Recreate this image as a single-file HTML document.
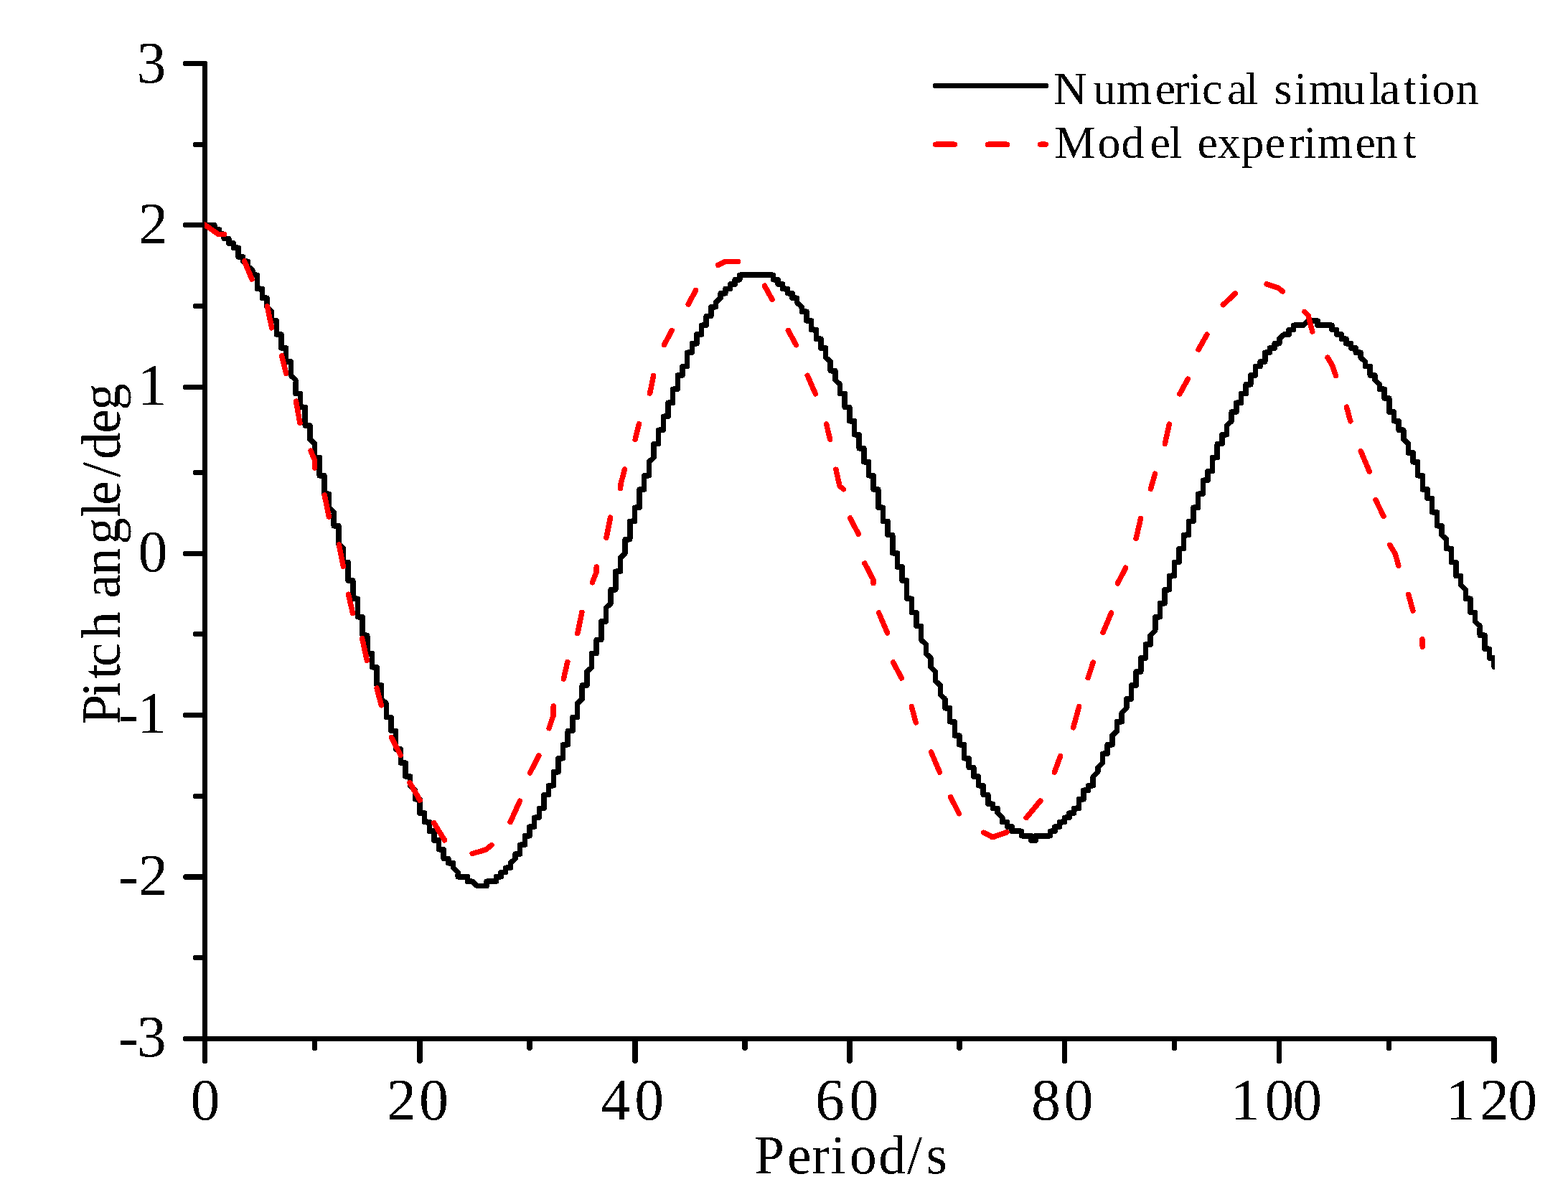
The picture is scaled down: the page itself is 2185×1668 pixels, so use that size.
<!DOCTYPE html>
<html lang="en"><head><meta charset="utf-8"><title>Pitch angle vs period</title>
<style>html,body{margin:0;padding:0;background:#fff;width:2185px;height:1668px;overflow:hidden}svg{display:block}text{font-family:'Liberation Serif', 'DejaVu Serif', serif;fill:#000;white-space:pre}</style></head><body>
<svg xmlns="http://www.w3.org/2000/svg" width="2185" height="1668" viewBox="0 0 2185 1668">
<rect width="2185" height="1668" fill="#fff"/>
<defs><clipPath id="plotclip"><rect x="285" y="0" width="1798" height="1668"/></clipPath><filter id="bin" x="0" y="0" width="2185" height="1668" filterUnits="userSpaceOnUse" color-interpolation-filters="sRGB"><feComponentTransfer><feFuncA type="discrete" tableValues="0 1"/></feComponentTransfer></filter></defs>
<g filter="url(#bin)">
<path d="M285.5,88.5 V1447.5 M285.5,1447.5 H2082.0 M285.5,88.5 H258.5 M285.5,313.5 H258.5 M285.5,539.5 H258.5 M285.5,771.5 H258.5 M285.5,996.5 H258.5 M285.5,1222.0 H258.5 M285.5,1447.5 H258.5 M285.5,201.5 H272.5 M285.5,426.5 H272.5 M285.5,658.5 H272.5 M285.5,883.5 H272.5 M285.5,1109.5 H272.5 M285.5,1334.5 H272.5 M285.5,1447.5 V1478.5 M585.0,1447.5 V1478.5 M885.0,1447.5 V1478.5 M1184.0,1447.5 V1478.5 M1483.5,1447.5 V1478.5 M1782.5,1447.5 V1478.5 M2082.0,1447.5 V1478.5 M438.5,1447.5 V1460.5 M738.0,1447.5 V1460.5 M1038.0,1447.5 V1460.5 M1337.0,1447.5 V1460.5 M1636.5,1447.5 V1460.5 M1935.5,1447.5 V1460.5" fill="none" stroke="#000" stroke-width="7.5" stroke-linecap="round" stroke-linejoin="round"/>
<g>
<text x="190.5" y="114.5" font-size="82.00">3</text>
<text x="193.1" y="338.8" font-size="82.00">2</text>
<text x="191.4" y="564.1" font-size="82.00">1</text>
<text x="192.4" y="796.2" font-size="82.00">0</text>
<text x="165.3 191.3" y="1021.0" font-size="82.00">-1</text>
<text x="165.3 193.1" y="1246.8" font-size="82.00">-2</text>
<text x="165.3 190.8" y="1472.0" font-size="82.00">-3</text>
<text x="265.4" y="1560.0" font-size="82.00">0</text>
<text x="539.1 584.1" y="1560.0" font-size="82.00">20</text>
<text x="837.3 884.3" y="1560.0" font-size="82.00">40</text>
<text x="1135.9 1183.4" y="1560.0" font-size="82.00">60</text>
<text x="1436.9 1482.5" y="1560.0" font-size="82.00">80</text>
<text x="1714.4 1762.5 1801.3" y="1560.0" font-size="82.00">100</text>
<text x="2014.4 2062.0 2101.3" y="1560.0" font-size="82.00">120</text>
</g>
<text x="1051.1 1097.1 1131.1 1157.5 1184.0 1224.2 1264.1 1290.6" y="1634.8" font-size="75.50">Period/s</text>
<text transform="translate(166.5,0) rotate(-90)" x="-1009.4 -970.9 -945.9 -928.9 -890.1 -852.3 -833.7 -801.5 -758.8 -720.8 -703.7 -664.9 -640.1 -603.8 -571.7" y="0" font-size="75.50">Pitch angle/deg</text>
<path d="M1303.6,119.5 H1457.3" fill="none" stroke="#000" stroke-width="7.5" stroke-linecap="round"/>
<text x="1468.3 1523.0 1555.5 1609.8 1635.9 1656.7 1675.1 1710.1 1735.6 1753.3 1775.6 1803.5 1823.4 1870.4 1908.1 1922.8 1956.0 1976.6 1995.5 2028.6" y="145.0" font-size="64.00">Numerical simulation</text>
<text x="1469.6 1529.4 1562.6 1602.6 1629.7 1647.5 1668.6 1696.4 1729.4 1762.7 1796.0 1816.7 1835.6 1888.5 1915.7 1955.8" y="220.0" font-size="64.00">Model experiment</text>
<path d="M285.5,313.5 298.81,313.5 298.81,319.85 305.46,319.85 305.46,326.2 312.12,326.2 312.12,332.56 318.77,332.56 318.77,338.91 325.43,338.91 325.43,345.26 332.08,345.26 332.08,357.96 338.74,357.96 338.74,364.32 345.39,364.32 345.39,370.67 352.05,377.02 352.05,383.37 358.7,383.37 358.7,402.43 365.35,402.43 365.35,415.13 372.01,415.13 372.01,427.84 378.66,434.19 378.66,446.89 385.32,446.89 385.32,465.95 391.97,465.95 391.97,485 398.63,485 398.63,504.06 405.28,504.06 405.28,523.12 411.94,529.47 411.94,548.52 418.59,548.52 418.59,567.58 425.24,567.58 425.24,592.99 431.9,592.99 431.9,612.04 438.55,618.4 438.55,637.45 445.21,637.45 445.21,662.86 451.86,662.86 451.86,688.27 458.52,688.27 458.52,707.32 465.17,713.68 465.17,732.73 471.83,732.73 471.83,758.14 478.48,764.49 478.48,783.55 485.13,783.55 485.13,808.96 491.79,808.96 491.79,834.36 498.44,834.36 498.44,859.77 505.1,859.77 505.1,885.18 511.75,885.18 511.75,910.59 518.41,910.59 518.41,929.64 525.06,929.64 525.06,955.05 531.72,955.05 531.72,974.11 538.37,980.46 538.37,999.52 545.03,999.52 545.03,1018.57 551.68,1018.57 551.68,1043.98 558.33,1043.98 558.33,1063.04 564.99,1063.04 564.99,1082.09 571.64,1082.09 571.64,1094.8 578.3,1101.15 578.3,1113.85 584.95,1113.85 584.95,1132.91 591.61,1132.91 591.61,1145.61 598.26,1145.61 598.26,1158.32 604.92,1158.32 604.92,1171.02 611.57,1171.02 611.57,1183.72 618.22,1183.72 618.22,1196.43 624.88,1196.43 624.88,1202.78 631.53,1202.78 631.53,1209.13 638.19,1215.48 638.19,1221.84 651.5,1221.84 651.5,1228.19 658.15,1228.19 664.81,1234.54 678.12,1234.54 678.12,1228.19 691.42,1228.19 691.42,1221.84 698.08,1221.84 698.08,1215.48 704.73,1215.48 704.73,1209.13 711.39,1209.13 711.39,1202.78 718.04,1196.43 718.04,1190.08 724.7,1190.08 724.7,1177.37 731.35,1177.37 731.35,1164.67 738.01,1164.67 738.01,1151.96 744.66,1151.96 744.66,1139.26 751.32,1139.26 751.32,1126.56 757.97,1126.56 757.97,1107.5 764.62,1107.5 764.62,1094.8 771.28,1094.8 771.28,1075.74 777.93,1075.74 777.93,1056.68 784.59,1056.68 784.59,1037.63 791.24,1037.63 791.24,1018.57 797.9,1018.57 797.9,999.52 804.55,999.52 804.55,980.46 811.21,974.11 811.21,955.05 817.86,955.05 817.86,936 824.51,929.64 824.51,910.59 831.17,910.59 831.17,891.53 837.82,891.53 837.82,866.12 844.48,866.12 844.48,847.07 851.13,840.72 851.13,821.66 857.79,821.66 857.79,796.25 864.44,796.25 864.44,777.2 871.1,770.84 871.1,751.79 877.75,751.79 877.75,726.38 884.4,726.38 884.4,707.32 891.06,707.32 891.06,681.92 897.71,681.92 897.71,662.86 904.37,662.86 904.37,643.8 911.02,637.45 911.02,618.4 917.68,618.4 917.68,599.34 924.33,599.34 924.33,580.28 930.99,580.28 930.99,561.23 937.64,561.23 937.64,542.17 944.3,542.17 944.3,523.12 950.95,523.12 950.95,510.41 957.6,510.41 957.6,491.36 964.26,491.36 964.26,478.65 970.91,478.65 970.91,465.95 977.57,465.95 977.57,453.24 984.22,453.24 984.22,440.54 990.88,440.54 990.88,427.84 997.53,427.84 997.53,421.48 1004.19,415.13 1004.19,408.78 1010.84,408.78 1010.84,402.43 1017.5,402.43 1017.5,396.08 1024.15,396.08 1024.15,389.72 1030.8,389.72 1030.8,383.37 1077.39,383.37 1077.39,389.72 1084.04,389.72 1084.04,396.08 1090.69,396.08 1090.69,402.43 1097.35,402.43 1097.35,408.78 1104,408.78 1104,415.13 1110.66,415.13 1110.66,421.48 1117.31,427.84 1117.31,434.19 1123.97,434.19 1123.97,446.89 1130.62,446.89 1130.62,459.6 1137.28,459.6 1137.28,472.3 1143.93,472.3 1143.93,485 1150.59,485 1150.59,497.71 1157.24,504.06 1157.24,516.76 1163.89,516.76 1163.89,529.47 1170.55,535.82 1170.55,548.52 1177.2,548.52 1177.2,567.58 1183.86,567.58 1183.86,586.64 1190.51,586.64 1190.51,605.69 1197.17,605.69 1197.17,624.75 1203.82,624.75 1203.82,643.8 1210.48,643.8 1210.48,662.86 1217.13,662.86 1217.13,681.92 1223.78,681.92 1223.78,707.32 1230.44,707.32 1230.44,726.38 1237.09,726.38 1237.09,745.44 1243.75,745.44 1243.75,770.84 1250.4,770.84 1250.4,789.9 1257.06,789.9 1257.06,808.96 1263.71,808.96 1263.71,834.36 1270.37,834.36 1270.37,853.42 1277.02,853.42 1277.02,872.48 1283.67,872.48 1283.67,891.53 1290.33,897.88 1290.33,910.59 1296.98,916.94 1296.98,929.64 1303.64,936 1303.64,948.7 1310.29,955.05 1310.29,967.76 1316.95,974.11 1316.95,986.81 1323.6,986.81 1323.6,1005.87 1330.26,1005.87 1330.26,1024.92 1336.91,1024.92 1336.91,1037.63 1343.57,1037.63 1343.57,1056.68 1350.22,1056.68 1350.22,1069.39 1356.87,1069.39 1356.87,1082.09 1363.53,1082.09 1363.53,1094.8 1370.18,1094.8 1370.18,1107.5 1376.84,1107.5 1376.84,1120.2 1383.49,1120.2 1383.49,1126.56 1390.15,1126.56 1390.15,1132.91 1396.8,1139.26 1396.8,1145.61 1403.46,1145.61 1403.46,1151.96 1410.11,1151.96 1410.11,1158.32 1423.42,1158.32 1423.42,1164.67 1436.73,1164.67 1436.73,1171.02 1443.38,1171.02 1443.38,1164.67 1463.35,1164.67 1463.35,1158.32 1470,1158.32 1470,1151.96 1476.66,1151.96 1476.66,1145.61 1483.31,1145.61 1483.31,1139.26 1489.96,1139.26 1489.96,1132.91 1496.62,1132.91 1496.62,1126.56 1503.27,1126.56 1503.27,1113.85 1509.93,1113.85 1509.93,1101.15 1516.58,1101.15 1516.58,1094.8 1523.24,1094.8 1523.24,1082.09 1529.89,1075.74 1529.89,1069.39 1536.55,1063.04 1536.55,1050.33 1543.2,1050.33 1543.2,1037.63 1549.86,1037.63 1549.86,1024.92 1556.51,1018.57 1556.51,1005.87 1563.16,1005.87 1563.16,993.16 1569.82,986.81 1569.82,974.11 1576.47,974.11 1576.47,955.05 1583.13,955.05 1583.13,936 1589.78,936 1589.78,916.94 1596.44,916.94 1596.44,897.88 1603.09,897.88 1603.09,885.18 1609.75,878.83 1609.75,859.77 1616.4,859.77 1616.4,840.72 1623.05,840.72 1623.05,821.66 1629.71,821.66 1629.71,802.6 1636.36,802.6 1636.36,783.55 1643.02,783.55 1643.02,764.49 1649.67,764.49 1649.67,745.44 1656.33,745.44 1656.33,726.38 1662.98,726.38 1662.98,707.32 1669.64,707.32 1669.64,688.27 1676.29,688.27 1676.29,669.21 1682.94,669.21 1682.94,656.51 1689.6,656.51 1689.6,637.45 1696.25,637.45 1696.25,618.4 1702.91,618.4 1702.91,605.69 1709.56,605.69 1709.56,592.99 1716.22,586.64 1716.22,573.93 1722.87,573.93 1722.87,561.23 1729.53,561.23 1729.53,548.52 1736.18,548.52 1736.18,535.82 1742.84,535.82 1742.84,523.12 1749.49,523.12 1749.49,510.41 1756.14,510.41 1756.14,504.06 1762.8,504.06 1762.8,491.36 1769.45,491.36 1769.45,485 1776.11,485 1776.11,478.65 1782.76,478.65 1782.76,472.3 1789.42,465.95 1796.07,465.95 1796.07,459.6 1802.73,459.6 1802.73,453.24 1816.03,453.24 1822.69,446.89 1836,446.89 1836,453.24 1855.96,453.24 1855.96,459.6 1862.62,459.6 1862.62,465.95 1869.27,465.95 1869.27,472.3 1875.93,472.3 1875.93,478.65 1882.58,478.65 1882.58,485 1889.23,485 1889.23,491.36 1895.89,491.36 1895.89,497.71 1902.54,504.06 1902.54,510.41 1909.2,510.41 1909.2,523.12 1915.85,523.12 1915.85,529.47 1922.51,535.82 1922.51,542.17 1929.16,542.17 1929.16,554.88 1935.82,554.88 1935.82,573.93 1942.47,573.93 1942.47,586.64 1949.12,586.64 1949.12,599.34 1955.78,599.34 1955.78,612.04 1962.43,618.4 1962.43,631.1 1969.09,631.1 1969.09,643.8 1975.74,643.8 1975.74,662.86 1982.4,662.86 1982.4,681.92 1989.05,681.92 1989.05,694.62 1995.71,694.62 1995.71,713.68 2002.36,713.68 2002.36,732.73 2009.02,732.73 2009.02,745.44 2015.67,751.79 2015.67,764.49 2022.32,764.49 2022.32,783.55 2028.98,783.55 2028.98,802.6 2035.63,802.6 2035.63,815.31 2042.29,821.66 2042.29,834.36 2048.94,834.36 2048.94,853.42 2055.6,853.42 2055.6,866.12 2062.25,872.48 2062.25,885.18 2068.91,885.18 2068.91,904.24 2075.56,904.24 2075.56,916.94 2082.22,916.94 2082.22,929.64" fill="none" stroke="#000" stroke-width="7.5" stroke-linecap="round" stroke-linejoin="round" clip-path="url(#plotclip)"/>
</g>
<path d="M1303.6,201.2 H1330.4 M1376.5,201.2 H1403.5 M1449.6,201.2 H1457.3" fill="none" stroke="#f00" stroke-width="7.5" stroke-linecap="round" filter="url(#bin)"/>
<path d="M282.0,311.1 L304.5,326.5 L312.2,326.5 M340.6,364.0 L351.0,389.0 M372.4,427.0 L378.7,456.9 M392.6,495.9 L398.7,520.4 M412.5,559.1 L417.9,589.3 M433.0,628.1 L438.2,640.5 L438.5,652.0 M452.2,689.9 L458.3,720.1 M472.3,759.0 L478.4,789.3 M485.5,828.2 L491.5,854.3 M504.7,889.9 L511.4,920.4 M525.1,958.9 L531.3,982.8 M545.5,1027.6 L558.1,1052.1 M570.9,1090.5 L585.1,1115.0 M604.5,1146.6 L619.5,1170.8 M658.1,1189.5 L676.8,1184.1 L685.2,1177.5 M711.1,1145.6 L724.4,1116.1 M738.5,1077.0 L750.8,1052.8 M765.1,1014.8 L771.2,996.5 L771.2,984.0 M785.3,946.1 L790.8,922.4 M804.9,882.5 L810.8,853.2 M825.3,811.8 L830.9,797.9 L831.2,790.1 M844.9,749.4 L850.6,721.1 M864.5,680.7 L865.1,674.3 L870.5,653.8 M885.2,612.2 L890.5,590.8 M905.6,548.0 L910.6,523.4 M925.4,480.7 L936.1,460.4 M959.2,423.9 L969.5,404.4 M1000.7,369.4 L1011.0,364.4 L1028.3,364.4 M1065.4,398.1 L1076.0,417.5 M1098.3,460.4 L1109.4,480.7 M1125.1,523.1 L1136.4,548.9 M1151.6,591.0 L1156.6,612.2 M1164.9,654.2 L1170.0,677.2 L1175.4,681.7 M1184.7,721.9 L1196.3,744.2 M1204.9,785.0 L1216.8,807.4 L1217.0,812.8 M1224.6,853.9 L1236.5,882.0 M1244.7,922.9 L1256.3,945.0 M1270.3,984.5 L1276.2,1006.9 M1297.5,1047.9 L1309.5,1076.2 M1324.6,1110.5 L1336.4,1133.6 M1370.8,1160.1 L1383.2,1166.6 L1403.0,1159.6 M1430.2,1139.5 L1449.7,1116.0 M1469.4,1076.2 L1477.7,1053.4 M1495.6,1013.9 L1503.7,984.5 M1516.2,944.7 L1523.2,923.2 M1536.9,881.7 L1548.6,853.9 M1557.4,812.9 L1568.6,791.2 M1583.1,750.3 L1589.6,722.4 M1603.4,681.4 L1609.6,660.0 M1623.3,618.5 L1629.4,591.1 M1643.9,549.0 L1655.3,528.1 M1670.0,487.1 L1681.9,466.2 M1704.4,424.7 L1721.3,409.0 M1765.1,395.9 L1781.2,401.1 L1787.1,406.0 M1817.8,434.4 L1823.0,439.5 L1828.8,462.1 M1850.0,498.2 L1856.3,508.7 L1861.5,523.5 M1876.5,567.2 L1881.8,586.9 M1896.3,628.8 L1908.2,657.0 M1916.9,696.4 L1928.0,719.5 M1936.7,759.4 L1944.3,771.7 L1948.8,788.3 M1962.7,828.4 L1968.9,851.1 M1981.9,890.8 L1982.2,901.1" fill="none" stroke="#f00" stroke-width="7.5" stroke-linecap="round" stroke-linejoin="round" clip-path="url(#plotclip)" filter="url(#bin)"/>
</svg></body></html>
